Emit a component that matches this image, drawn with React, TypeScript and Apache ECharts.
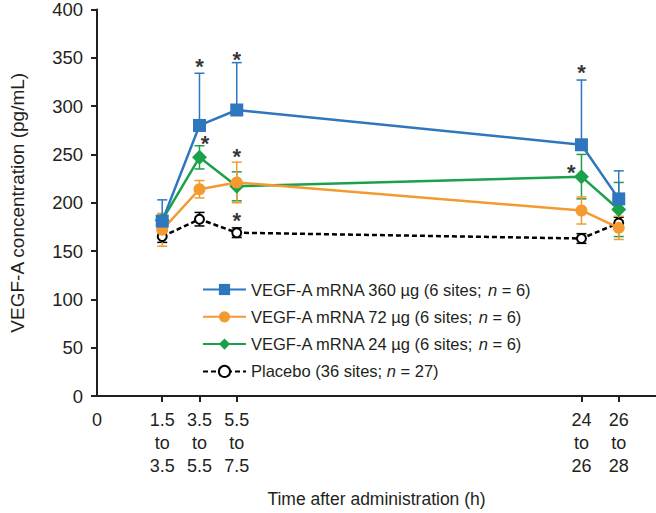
import React, { useEffect, useRef } from "react";
import * as echarts from "echarts";

// ---- data ----
const times = [1.5, 3.5, 5.5, 24, 26];
const xTickLabels = ["1.5\nto\n3.5", "3.5\nto\n5.5", "5.5\nto\n7.5", "24\nto\n26", "26\nto\n28"];
const xOriginValue = -2;
const xOriginLabel = "0";

const seriesNames = [
  "VEGF-A mRNA 360 µg (6 sites; n = 6)",
  "VEGF-A mRNA 72 µg (6 sites; n = 6)",
  "VEGF-A mRNA 24 µg (6 sites; n = 6)",
  "Placebo (36 sites; n = 27)",
];

const mrna360 = [181, 280, 296, 260, 204];
const mrna360Se = [22, 54, 49, 67, 29];
const mrna72 = [172, 214, 221, 192, 174];
const mrna72Se = [17, 9, 21, 14, 12];
const mrna24 = [182, 247, 217, 227, 193];
const mrna24Se = [5, 12, 15, 23, 28];
const placebo = [165, 183, 169, 163, 179];
const placeboSe = [6, 7, 5, 5, 6];

// significance asterisks [time, concentration]
const asterisks = [
  [3.5, 347],
  [5.5, 354],
  [3.8, 268],
  [5.5, 254],
  [5.5, 188],
  [24, 341],
  [23.45, 238],
];

const yTicks = [0, 50, 100, 150, 200, 250, 300, 350, 400];

const BLUE = "#2e77be";
const ORANGE = "#f39a31";
const GREEN = "#1ba04b";
const BLACK = "#231f20";
const FONT = "Liberation Sans";

function errorSeries(values: number[], se: number[], color: string, lower: boolean, z: number) {
  const data = values.map((v, i) => [times[i], lower ? v - se[i] : v, v + se[i]]);
  return {
    type: "custom",
    silent: true,
    z,
    data,
    encode: { x: 0, y: [1, 2] },
    renderItem: (params: any, api: any) => {
      const x = api.value(0);
      const lo = api.value(1);
      const hi = api.value(2);
      const pLo = api.coord([x, lo]);
      const pHi = api.coord([x, hi]);
      const hw = 5;
      const style = { stroke: color, lineWidth: 1.5, fill: "none" };
      const children: any[] = [
        { type: "line", shape: { x1: pLo[0], y1: pLo[1], x2: pHi[0], y2: pHi[1] }, style },
        { type: "line", shape: { x1: pHi[0] - hw, y1: pHi[1], x2: pHi[0] + hw, y2: pHi[1] }, style },
      ];
      if (lower) {
        children.push({ type: "line", shape: { x1: pLo[0] - hw, y1: pLo[1], x2: pLo[0] + hw, y2: pLo[1] }, style });
      }
      return { type: "group", children };
    },
  };
}

function lineSeries(name: string, values: number[], color: string, symbol: string, size: number, z: number, extra: any = {}) {
  return {
    name,
    type: "line",
    z,
    data: values.map((v, i) => [times[i], v]),
    symbol,
    symbolSize: size,
    lineStyle: { color, width: 2.5 },
    itemStyle: { color },
    ...extra,
  };
}

export default function App() {
  const ref = useRef<HTMLDivElement>(null);
  useEffect(() => {
    if (!ref.current) return;
    const chart = echarts.init(ref.current, null, { renderer: "svg" });
    const option: any = {
      animation: false,
      backgroundColor: "#ffffff",
      textStyle: { fontFamily: FONT, color: BLACK },
      grid: { left: 80, right: 0, top: 7.3, bottom: 110.3, containLabel: false },
      xAxis: {
        type: "value",
        min: xOriginValue,
        max: 28,
        name: "Time after administration (h)",
        nameLocation: "middle",
        nameGap: 94,
        nameTextStyle: { fontSize: 17.5, color: BLACK, fontFamily: FONT },
        axisLine: { onZero: false, lineStyle: { color: BLACK, width: 2 } },
        axisTick: { show: true, customValues: times, length: 6, lineStyle: { color: BLACK, width: 2 } },
        axisLabel: {
          customValues: [xOriginValue, ...times],
          fontSize: 18,
          lineHeight: 23.3,
          color: BLACK,
          fontFamily: FONT,
          margin: 12,
          formatter: (v: number) => {
            if (Math.abs(v - xOriginValue) < 1e-6) return xOriginLabel;
            const i = times.findIndex((t) => Math.abs(t - v) < 1e-6);
            return i >= 0 ? xTickLabels[i] : "";
          },
        },
        splitLine: { show: false },
      },
      yAxis: {
        type: "value",
        min: yTicks[0],
        max: yTicks[yTicks.length - 1],
        interval: 50,
        name: "VEGF-A concentration (pg/mL)",
        nameLocation: "middle",
        nameGap: 70,
        nameTextStyle: { fontSize: 19, color: BLACK, fontFamily: FONT },
        axisLine: { show: true, onZero: false, lineStyle: { color: BLACK, width: 2 } },
        axisTick: { show: true, length: 6, lineStyle: { color: BLACK, width: 2 } },
        axisLabel: { fontSize: 18.5, color: BLACK, fontFamily: FONT, margin: 14 },
        splitLine: { show: false },
      },
      legend: {
        orient: "vertical",
        left: 197,
        top: 276,
        itemWidth: 43,
        itemHeight: 14,
        itemGap: 10.3,
        data: seriesNames,
        selectedMode: false,
        textStyle: {
          fontSize: 16.5,
          color: BLACK,
          fontFamily: FONT,
          rich: {
            i: { fontStyle: "italic", fontSize: 16.5, color: BLACK, fontFamily: FONT },
          },
        },
        formatter: (name: string) => name.replace(" n = ", " {i|n} = "),
      },
      series: [
        errorSeries(placebo, placeboSe, "#000000", true, 1),
        errorSeries(mrna24, mrna24Se, GREEN, true, 1),
        errorSeries(mrna72, mrna72Se, ORANGE, true, 1),
        errorSeries(mrna360, mrna360Se, BLUE, false, 1),
        lineSeries(seriesNames[3], placebo, "#000000", "circle", 9, 2, {
          lineStyle: { color: "#000000", width: 2.5, type: [5, 3] },
          itemStyle: { color: "#ffffff", borderColor: "#000000", borderWidth: 2 },
        }),
        lineSeries(seriesNames[2], mrna24, GREEN, "diamond", 15, 3),
        lineSeries(seriesNames[1], mrna72, ORANGE, "circle", 12, 4),
        lineSeries(seriesNames[0], mrna360, BLUE, "rect", 13, 5),
        {
          type: "scatter",
          silent: true,
          z: 6,
          data: asterisks,
          symbol: "circle",
          symbolSize: 1,
          itemStyle: { color: "rgba(0,0,0,0)" },
          label: {
            show: true,
            position: "inside",
            formatter: "*",
            fontSize: 22,
            fontWeight: "bold",
            color: "#000000",
            fontFamily: FONT,
            offset: [0, 6],
          },
        },
      ],
    };
    chart.setOption(option);
    return () => chart.dispose();
  }, []);
  return (
    <div
      ref={ref}
      style={{ position: "fixed", left: 0, top: 0, width: 656, height: 513, background: "#fff" }}
    />
  );
}
